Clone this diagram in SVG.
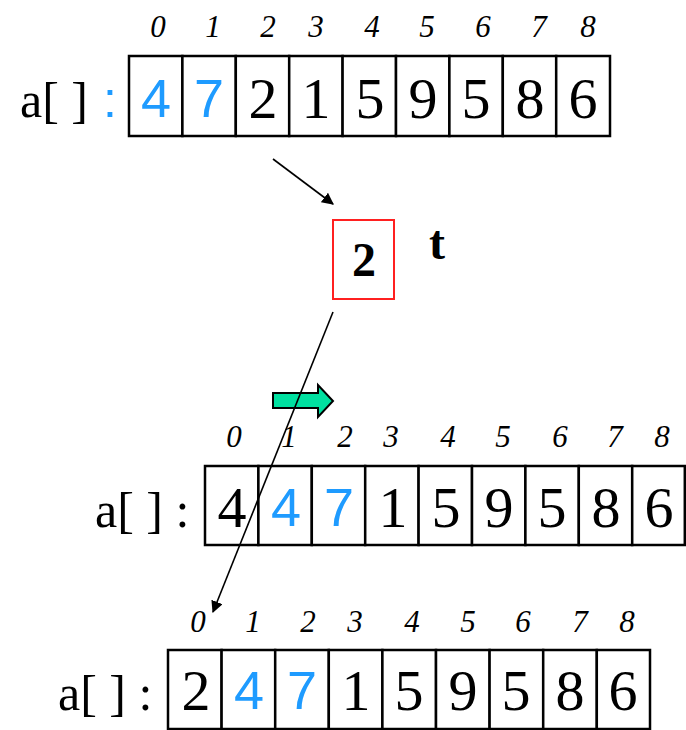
<svg xmlns="http://www.w3.org/2000/svg" width="686" height="730" viewBox="0 0 686 730">
<defs>
<style>
.cell{fill:#fff;stroke:#000;stroke-width:2.5}
.idx{font-family:"Liberation Serif",serif;font-style:italic;font-size:31px;fill:#000;text-anchor:middle}
.d{font-family:"Liberation Serif",serif;font-size:58px;fill:#000;text-anchor:middle}
.b{font-family:"Liberation Sans",Arial,sans-serif;font-size:54px;fill:#1E9BFF;text-anchor:middle}
.lbl{font-family:"Liberation Serif",serif;font-size:50px;fill:#000}
.conn{stroke:#000;stroke-width:1.6;fill:none}
</style>
<marker id="ah2" viewBox="0 0 10 10" refX="9" refY="5" markerWidth="12" markerHeight="12" markerUnits="userSpaceOnUse" orient="auto">
<path d="M0,0 L10,5 L0,10 z" fill="#000"/>
</marker>
</defs>
<rect width="686" height="730" fill="#fff"/>

<g id="array-top">
<text class="lbl" x="20" y="117">a[ ]</text>
<text x="103" y="117" font-family="'Liberation Sans',Arial,sans-serif" font-size="50" fill="#1E9BFF">:</text>
<rect class="cell" x="129" y="56" width="53.4" height="80"/>
<rect class="cell" x="182.4" y="56" width="53.4" height="80"/>
<rect class="cell" x="235.8" y="56" width="53.4" height="80"/>
<rect class="cell" x="289.2" y="56" width="53.4" height="80"/>
<rect class="cell" x="342.6" y="56" width="53.4" height="80"/>
<rect class="cell" x="396" y="56" width="53.4" height="80"/>
<rect class="cell" x="449.4" y="56" width="53.4" height="80"/>
<rect class="cell" x="502.8" y="56" width="53.4" height="80"/>
<rect class="cell" x="556.2" y="56" width="53.8" height="80"/>
<text class="idx" x="158" y="37">0</text>
<text class="idx" x="213" y="37">1</text>
<text class="idx" x="268" y="37">2</text>
<text class="idx" x="316" y="37">3</text>
<text class="idx" x="372" y="37">4</text>
<text class="idx" x="427" y="37">5</text>
<text class="idx" x="483" y="37">6</text>
<text class="idx" x="539" y="37">7</text>
<text class="idx" x="588" y="37">8</text>
<text class="b" x="156" y="117">4</text>
<text class="b" x="209" y="117">7</text>
<text class="d" x="263" y="118">2</text>
<text class="d" x="316" y="118">1</text>
<text class="d" x="370" y="118">5</text>
<text class="d" x="423" y="118">9</text>
<text class="d" x="476" y="118">5</text>
<text class="d" x="530" y="118">8</text>
<text class="d" x="583" y="118">6</text>
</g>

<g id="temp-t">
<rect x="333" y="220" width="61" height="79" fill="#fff" stroke="#FF2020" stroke-width="2"/>
<text x="364" y="276" font-family="'Liberation Serif',serif" font-weight="bold" font-size="48" text-anchor="middle">2</text>
<text x="429" y="259" font-family="'Liberation Serif',serif" font-weight="bold" font-size="48">t</text>
</g>

<g id="shift-arrow">
<path d="M273,393 L318,393 L318,385 L333,401 L318,417 L318,408 L273,408 Z" fill="#00E0A0" stroke="#000" stroke-width="2" stroke-linejoin="miter"/>
</g>

<g id="array-mid">
<text class="lbl" x="95" y="527">a[ ] :</text>
<rect class="cell" x="205" y="466" width="53.4" height="79"/>
<rect class="cell" x="258.4" y="466" width="53.4" height="79"/>
<rect class="cell" x="311.8" y="466" width="53.4" height="79"/>
<rect class="cell" x="365.2" y="466" width="53.4" height="79"/>
<rect class="cell" x="418.6" y="466" width="53.4" height="79"/>
<rect class="cell" x="472" y="466" width="53.4" height="79"/>
<rect class="cell" x="525.4" y="466" width="53.4" height="79"/>
<rect class="cell" x="578.8" y="466" width="53.4" height="79"/>
<rect class="cell" x="632.2" y="466" width="52.6" height="79"/>
<text class="idx" x="234" y="447">0</text>
<text class="idx" x="289" y="447">1</text>
<text class="idx" x="345" y="447">2</text>
<text class="idx" x="391" y="447">3</text>
<text class="idx" x="448" y="447">4</text>
<text class="idx" x="503" y="447">5</text>
<text class="idx" x="560" y="447">6</text>
<text class="idx" x="615" y="447">7</text>
<text class="idx" x="662" y="447">8</text>
<text class="d" x="232" y="527">4</text>
<text class="b" x="286" y="526">4</text>
<text class="b" x="339" y="526">7</text>
<text class="d" x="393" y="527">1</text>
<text class="d" x="446" y="527">5</text>
<text class="d" x="499" y="527">9</text>
<text class="d" x="552" y="527">5</text>
<text class="d" x="606" y="527">8</text>
<text class="d" x="659" y="527">6</text>
</g>

<g id="array-bot">
<text class="lbl" x="58" y="710">a[ ] :</text>
<rect class="cell" x="168" y="650" width="53.6" height="79"/>
<rect class="cell" x="221.6" y="650" width="53.6" height="79"/>
<rect class="cell" x="275.2" y="650" width="53.6" height="79"/>
<rect class="cell" x="328.8" y="650" width="53.6" height="79"/>
<rect class="cell" x="382.4" y="650" width="53.6" height="79"/>
<rect class="cell" x="436" y="650" width="53.6" height="79"/>
<rect class="cell" x="489.6" y="650" width="53.6" height="79"/>
<rect class="cell" x="543.2" y="650" width="53.6" height="79"/>
<rect class="cell" x="596.8" y="650" width="53.2" height="79"/>
<text class="idx" x="198" y="632">0</text>
<text class="idx" x="253" y="632">1</text>
<text class="idx" x="308" y="632">2</text>
<text class="idx" x="355" y="632">3</text>
<text class="idx" x="412" y="632">4</text>
<text class="idx" x="468" y="632">5</text>
<text class="idx" x="523" y="632">6</text>
<text class="idx" x="580" y="632">7</text>
<text class="idx" x="627" y="632">8</text>
<text class="d" x="196" y="710">2</text>
<text class="b" x="249" y="709">4</text>
<text class="b" x="302" y="709">7</text>
<text class="d" x="356" y="710">1</text>
<text class="d" x="409" y="710">5</text>
<text class="d" x="463" y="710">9</text>
<text class="d" x="516" y="710">5</text>
<text class="d" x="570" y="710">8</text>
<text class="d" x="623" y="710">6</text>
</g>

<g id="connectors">
<line class="conn" x1="273" y1="159" x2="333" y2="204" marker-end="url(#ah2)"/>
<line class="conn" x1="333" y1="312" x2="213" y2="612" marker-end="url(#ah2)"/>
</g>
</svg>
